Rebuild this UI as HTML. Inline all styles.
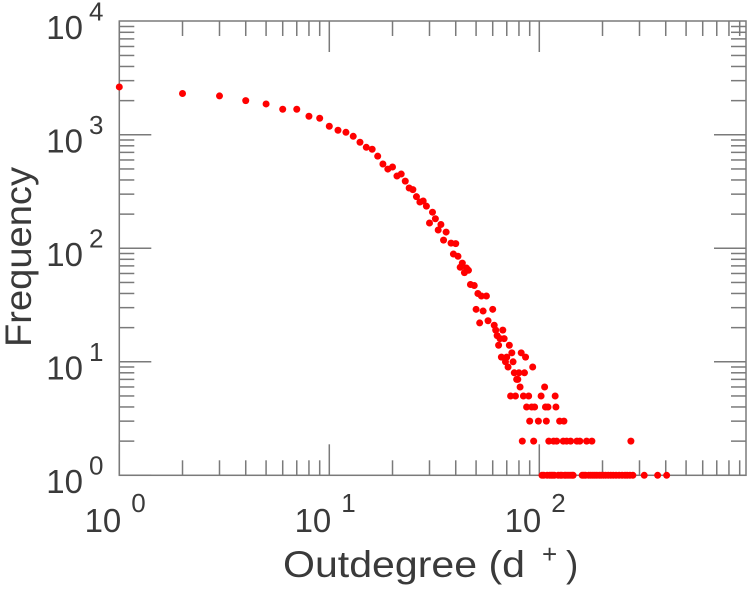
<!DOCTYPE html>
<html><head><meta charset="utf-8"><style>
html,body{margin:0;padding:0;background:#fff;}
svg{display:block;font-family:"Liberation Sans",Arial,sans-serif;}
</style></head><body>
<svg id="chart" width="749" height="600" viewBox="0 0 749 600" xmlns="http://www.w3.org/2000/svg">
<g id="axes"></g>
<g id="dots"></g>
<g id="labels"></g>
<text x="283" y="577" font-size="37" fill="#3a3a3a" textLength="242" lengthAdjust="spacingAndGlyphs">Outdegree (d</text>
<text x="542" y="563" font-size="26" fill="#3a3a3a">+</text>
<text x="566" y="577" font-size="37" fill="#3a3a3a">)</text>
<text transform="translate(31,347) rotate(-90)" font-size="37" fill="#3a3a3a" textLength="180" lengthAdjust="spacingAndGlyphs">Frequency</text>
</svg>
<script>
const degrees = [1,2,3,4,5,6,7,8,9,10,11,12,13,14,15,16,17,18,19,20,21,22,23,24,25,26,27,28,29,30,31,32,33,34,35,36,
38,39,40,41,42,43,44,45,46,47,49,51,53,56,50,54,60,52,57,61,62,63,64,65,67,68,72,74,82,86,66,70,69,75,71,93,76,79,85,78,77,80,81,106,73,84,89,102,119,87,92,95,107,110,120,90,99,108,125,131,83,94,111,117,121,130,135,141,151,156,168,178,273,
103,105,109,112,114,116,118,123,126,128,132,134,137,140,143,145,160,163,166,172,176,180,184,188,193,197,202,207,213,219,225,232,240,248,256,262,270,279,316,366,404];
const freqs = [2640,2310,2200,2000,1870,1680,1680,1456,1400,1190,1096,1052,970,860,776,746,648,553,499,520,433,451,391,340,329,285,256,261,235,167,208,182,145,162,118,139,
111,89,110,85,68,74,61,67,64,48,47,40,38,38,29,28,29,22,23,21,19,17,14,16,19,16,14,12,12,11,11,11,10,10,9,9,8,7,8,7,5,8,6,6,5,5,5,5,5,4,4,4,4,4,4,3,3,3,3,3,2,2,2,2,2,2,2,2,2,2,2,2,2,
1,1,1,1,1,1,1,1,1,1,1,1,1,1,1,1,1,1,1,1,1,1,1,1,1,1,1,1,1,1,1,1,1,1,1,1,1,1,1,1,1];
const xTickExps = [0,1,2];
const yTickExps = [0,1,2,3,4];
const xTickLabels = ["0","1","2"];
const yTickLabels = ["0","1","2","3","4"];

const X0=119.3, XDEC=210, Y0=475.3, YDEC=113.5, XR=746, YT=21;
function xs(v){return X0+Math.log10(v)*XDEC;}
function ys(v){return Y0-Math.log10(v)*YDEC;}
const NS="http://www.w3.org/2000/svg";
function mk(tag,attrs,parent){const e=document.createElementNS(NS,tag);for(const k in attrs)e.setAttribute(k,attrs[k]);parent.appendChild(e);return e;}
const axes=document.getElementById('axes'), dots=document.getElementById('dots'), labels=document.getElementById('labels');
const st='#7a7a7a';
const frame=mk('rect',{x:X0,y:YT,width:XR-X0,height:Y0-YT,fill:'none',stroke:st,'stroke-width':1.5},axes);


for(let e=0;e<3;e++){for(let m=1;m<10;m++){const v=m*Math.pow(10,e);const x=xs(v);if(x>XR-0.5)continue;const L=m===1?31:15;
 const t1=mk('line',{x1:x,x2:x,y1:Y0,y2:Y0-L,stroke:st,'stroke-width':1.5},axes);
 
 
 const t2=mk('line',{x1:x,x2:x,y1:YT,y2:YT+L,stroke:st,'stroke-width':1.5},axes);
 
 }}
for(let e=0;e<4;e++){for(let m=1;m<10;m++){const v=m*Math.pow(10,e);const y=ys(v);const L=m===1?32:15;
 const t1=mk('line',{x1:X0,x2:X0+L,y1:y,y2:y,stroke:st,'stroke-width':1.5},axes);
 
 
 const t2=mk('line',{x1:XR,x2:XR-L,y1:y,y2:y,stroke:st,'stroke-width':1.5},axes);
 
 }}
for(let i=0;i<degrees.length;i++){
 const c=mk('circle',{cx:xs(degrees[i]),cy:ys(freqs[i]),r:3.5,fill:'#ff0000'},dots);
 
 }
xTickExps.forEach((e,i)=>{const x=xs(Math.pow(10,e));
 const t=mk('text',{x:x+2,y:532,'font-size':33,fill:'#3a3a3a','text-anchor':'end'},labels);t.textContent='10';
 
 
 const s=mk('text',{x:x+12,y:512,'font-size':26,fill:'#3a3a3a'},labels);s.textContent=xTickLabels[i];
 
 });
yTickExps.forEach((e,i)=>{const y=ys(Math.pow(10,e));
 const t=mk('text',{x:83,y:y+17.5,'font-size':33,fill:'#3a3a3a','text-anchor':'end'},labels);t.textContent='10';
 
 
 const s=mk('text',{x:89,y:y-1,'font-size':26,fill:'#3a3a3a'},labels);s.textContent=yTickLabels[i];
 
 });
</script>
</body></html>
